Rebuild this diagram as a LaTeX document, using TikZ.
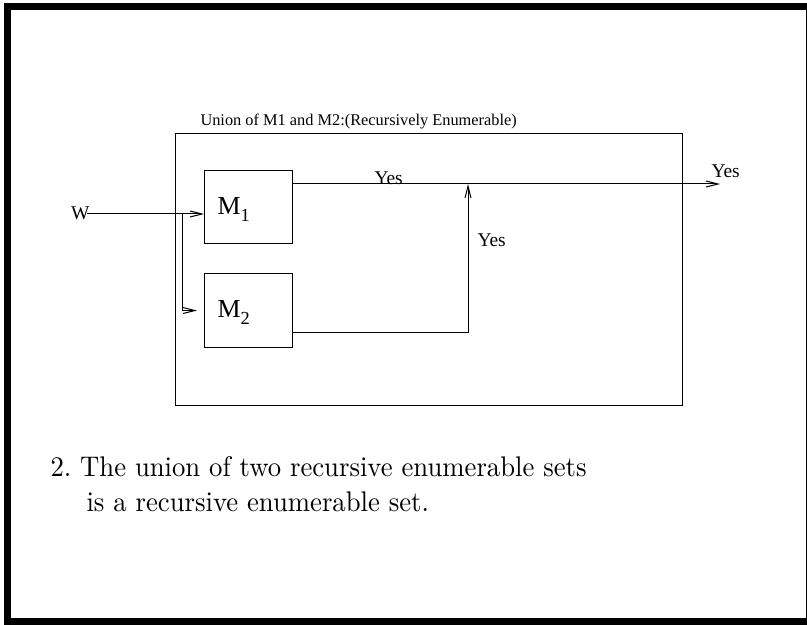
\documentclass[tikz,border=0pt]{standalone}
\usepackage{fontspec}
\newfontfamily\serifdiag{Liberation Serif}
\usetikzlibrary{arrows.meta}
\begin{document}
\begin{tikzpicture}[x=1bp,y=-1bp,line width=1bp,
  barb/.style={-{Straight Barb[length=12bp,width=6bp,line width=1bp]}},
  lbl/.style={font=\serifdiag\fontsize{19.5}{19.5}\selectfont, inner sep=0pt},
  titlelbl/.style={font=\serifdiag\fontsize{16.4}{16.4}\selectfont, inner sep=0pt},
  mlbl/.style={font=\serifdiag\fontsize{26}{26}\selectfont, inner sep=0pt},
  machine/.style={draw, minimum width=88bp, minimum height=74bp, inner sep=0pt, anchor=north west},
  stmt/.style={inner sep=0pt, anchor=base west}]
% page frame: heavy top, left and bottom edges, hairline right edge
\fill[white] (0,0) rectangle (807,625);
\fill[black] (4,3) rectangle (807,10);
\fill[black] (4,3) rectangle (11,625);
\fill[black] (4,618) rectangle (807,625);
\fill[black] (805.5,3) rectangle (807,625);

% enclosing machine
\node[draw, minimum width=507bp, minimum height=272bp, inner sep=0pt, anchor=north west] (union) at (175,133) {};
\node[titlelbl, anchor=base west] (title) at (200,126) {Union of M1 and M2:(Recursively Enumerable)};

% the two machines
\node[machine, minimum height=73bp] (m1) at (204,170) {};
\node[machine] (m2) at (204,273) {};
\node[mlbl, anchor=base west] (m1t) at (217,215) {M\raisebox{-7bp}{\fontsize{18.5}{18.5}\selectfont 1}};
\node[mlbl, anchor=base west] (m2t) at (217,317) {M\raisebox{-7bp}{\fontsize{18.5}{18.5}\selectfont 2}};

% input
\node[lbl, anchor=base east] (w) at (90,220) {W};
\coordinate (split) at (182,214);
\draw[barb] ([xshift=-3bp]w.east |- split) -- (m1.west |- split);
\draw[barb] (split) |- ([xshift=-7bp]m2.west);

% outputs
\coordinate (yesout) at (720,184);
\coordinate (join) at (468,184);
\draw[barb] (m1.east |- yesout) -- (yesout);
\draw[barb] ([yshift=-22bp]m2.east) -| (join);
\node[lbl, anchor=base west] (yes1) at (374,185) {Yes};
\node[lbl, anchor=base west] (yes2) at (477,246) {Yes};
\node[lbl, anchor=base west] (yes3) at (711,178) {Yes};

% statement
\node[stmt] (stmt1) at (50,476.5) {\scalebox{2.68}[2.85]{\fontsize{10}{12}\selectfont 2.\ The union of two recursive enumerable sets}};
\node[stmt] (stmt2) at (86,511) {\scalebox{2.68}[2.85]{\fontsize{10}{12}\selectfont is a recursive enumerable set.}};

\pgfresetboundingbox
\useasboundingbox (0,0) rectangle (807,625);
\end{tikzpicture}
\end{document}
